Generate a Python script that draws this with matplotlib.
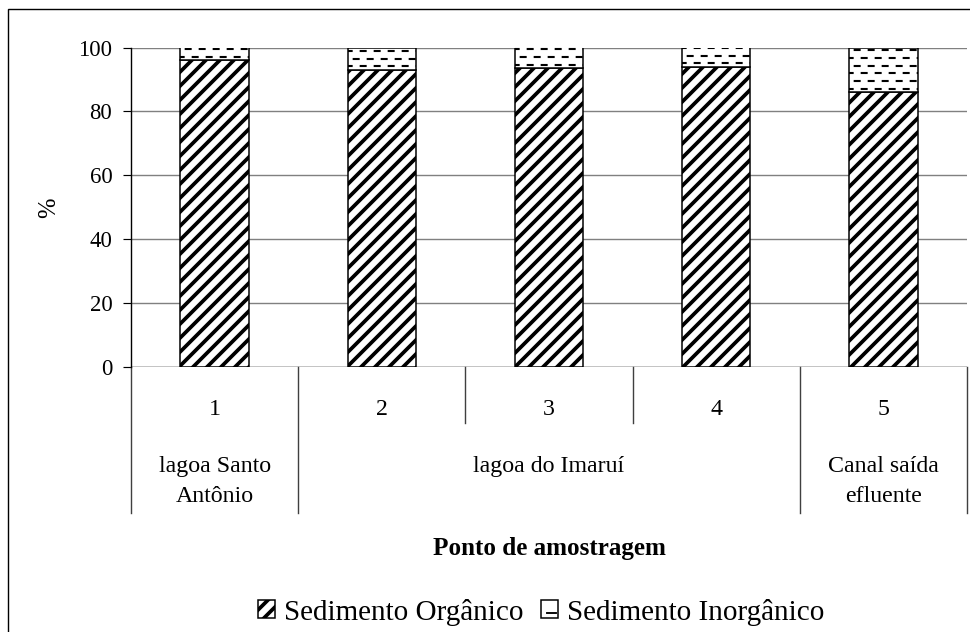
import numpy as np
import matplotlib
matplotlib.use('Agg')
import matplotlib.pyplot as plt
import matplotlib.transforms as mtransforms
from matplotlib.patches import Rectangle, Patch
from matplotlib.lines import Line2D
from matplotlib.legend_handler import HandlerBase

# data
pontos = ['1', '2', '3', '4', '5']
organico = [96.0, 93.0, 93.5, 94.0, 86.0]
inorganico = [100 - v for v in organico]
grupos = ['lagoa Santo\nAntônio', 'lagoa do Imaruí', 'Canal saída\nefluente']
grupo_idx = [[0], [1, 2, 3], [4]]
yticks = [0, 20, 40, 60, 80, 100]

plt.rcParams['font.family'] = ['Liberation Serif', 'DejaVu Serif']
plt.rcParams['hatch.linewidth'] = 3.2
plt.rcParams['lines.scale_dashes'] = False


class DashBox(HandlerBase):
    """legend box with a single dash, like the inorganic fill"""
    def create_artists(self, legend, orig_handle, xdescent, ydescent,
                       width, height, fontsize, trans):
        r = Rectangle((-xdescent, -ydescent), width, height, facecolor='white',
                      edgecolor='black', linewidth=1.3, transform=trans)
        ln = Line2D([-xdescent + 0.35 * width, -xdescent + 0.85 * width],
                    [-ydescent + 0.3 * height] * 2, color='black', lw=1.6, transform=trans)
        return [r, ln]


DPI = 84
fig = plt.figure(figsize=(970 / DPI, 632 / DPI), dpi=DPI)
ax = fig.add_axes([131 / 970, 1 - 367 / 632, 836 / 970, 319.5 / 632])

x = np.arange(len(pontos))
w = 0.41
b1 = ax.bar(x, organico, w, color='white', edgecolor='black', hatch='//', linewidth=1.3, zorder=3)
b2 = ax.bar(x, inorganico, w, bottom=organico, color='white', edgecolor='black',
            linewidth=1.3, zorder=3)

# dashed fill for the inorganic part
step = 2.4
for rect, bot, h in zip(b2, organico, inorganico):
    x0 = rect.get_x()
    x1 = x0 + rect.get_width()
    k = 0
    y = bot + step * 0.45
    while y < bot + h:
        ln, = ax.plot([x0, x1], [y, y], color='black', lw=1.8,
                      ls=(2 + (k % 2) * 6, (6.0, 6.0)), zorder=4, solid_capstyle='butt')
        ln.set_clip_path(rect)
        y += step
        k += 1

ax.set_xlim(-0.5, len(pontos) - 0.5)
ax.set_ylim(0, 100)
ax.set_yticks(yticks)
ax.tick_params(axis='y', labelsize=19.5, length=7, width=1, pad=9)
ax.tick_params(axis='x', bottom=False, labelbottom=False)
ax.yaxis.grid(True, color='#808080', linewidth=1.2, zorder=0)
for s in ['top', 'right', 'bottom']:
    ax.spines[s].set_visible(False)
ax.spines['left'].set_linewidth(1.2)
ax.axhline(0, color='#404040', lw=1.2, zorder=2)
ax.set_ylabel('%', fontsize=21, labelpad=16)

# category table below the axis
trans = mtransforms.blended_transform_factory(ax.transData, ax.transAxes)
long_y = -0.457
short_y = -0.175
bounds = np.arange(len(pontos) + 1) - 0.5
ends = [g[-1] + 0.5 for g in grupo_idx]
for bx in bounds:
    ylow = long_y if (bx == bounds[0] or bx in ends) else short_y
    ax.plot([bx, bx], [0, ylow], color='#404040', lw=1.2, transform=trans, clip_on=False)

for xi, p in zip(x, pontos):
    ax.text(xi, -0.133, p, transform=trans, ha='center', va='center', fontsize=20.5)
for g, idx in zip(grupos, grupo_idx):
    ax.text(np.mean(idx), -0.278, g, transform=trans, ha='center', va='top',
            fontsize=20.5, linespacing=1.6)

ax.text(np.mean(x), -0.567, 'Ponto de amostragem', transform=trans, ha='center',
        va='center', fontsize=21.5, fontweight='bold')

h_org = Patch(facecolor='white', edgecolor='black', hatch='//', linewidth=1.3)
h_inorg = Patch(facecolor='white', edgecolor='black')
fig.legend([h_org, h_inorg], ['Sedimento Orgânico', 'Sedimento Inorgânico'],
           loc='center', bbox_to_anchor=(541 / 970, 1 - 612 / 632), ncol=2,
           frameon=False, fontsize=25, handlelength=0.6, handleheight=0.6,
           handletextpad=0.3, columnspacing=0.6, handler_map={h_inorg: DashBox()})

# figure border
fig.patches.append(Rectangle((8 / 970, -0.1), 1.1, 1.1 - 8.5 / 632, transform=fig.transFigure,
                             fill=False, edgecolor='black', linewidth=1.2))

fig.savefig('out.png', dpi=DPI)
